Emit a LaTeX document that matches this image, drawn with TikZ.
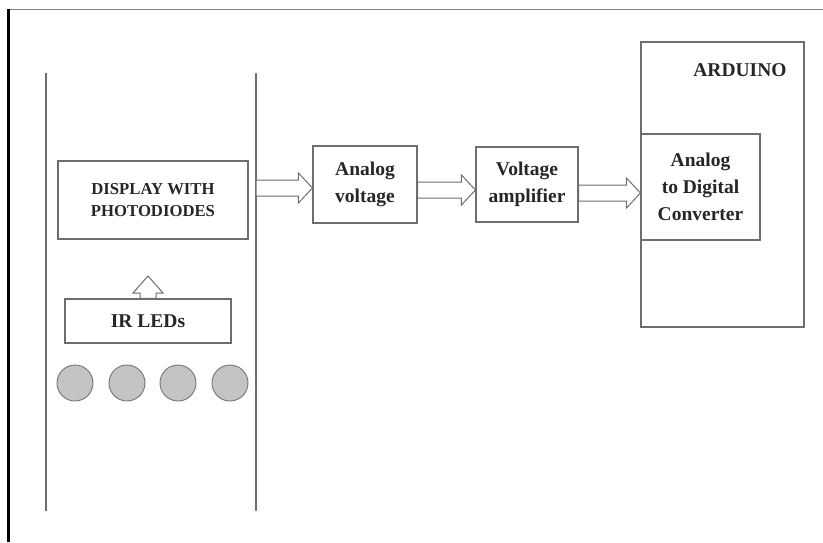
\documentclass[tikz,border=0pt]{standalone}
\usepackage{fontspec}
\setmainfont{Liberation Serif}
\usetikzlibrary{calc}
\definecolor{lineaGris}{HTML}{6E6E6E}
\definecolor{ledGris}{HTML}{C4C4C4}
\definecolor{textoGris}{HTML}{262626}

\tikzset{
  bloque/.style={draw=lineaGris,line width=1.1pt,inner sep=0pt,align=center,
    text=textoGris,font=\bfseries\fontsize{19.5}{27}\selectfont},
  flecha/.style={draw=lineaGris,line width=1pt,fill=white},
  led/.style={circle,draw=gray!90!black,fill=ledGris,line width=0.9pt,
    minimum size=36pt,inner sep=0pt},
}

% hollow block arrow to the right: start point, end point (y of start)
\newcommand{\flechaDer}[2]{%
  \draw[flecha] let \p1=#1, \p2=#2 in
    (\x1,\y1+8pt) -- (\x2-14pt,\y1+8pt) -- (\x2-14pt,\y1+15pt) -- (\x2,\y1)
    -- (\x2-14pt,\y1-15pt) -- (\x2-14pt,\y1-8pt) -- (\x1,\y1-8pt) -- cycle;}
% hollow block arrow upwards
\newcommand{\flechaArr}[2]{%
  \draw[flecha] let \p1=#1, \p2=#2 in
    (\x2-8pt,\y1) -- (\x2-8pt,\y2-17pt) -- (\x2-15pt,\y2-17pt) -- (\x2,\y2)
    -- (\x2+15pt,\y2-17pt) -- (\x2+8pt,\y2-17pt) -- (\x2+8pt,\y1) -- cycle;}

\begin{document}
\begin{tikzpicture}[x=1pt,y=-1pt]
  \useasboundingbox (0,0) rectangle (823,542);
  % frame
  \draw[gray,line width=1pt] (8,9) -- (823,9);
  \draw[black,line width=3pt] (8,9) -- (8,542);

  % sensor column
  \draw[lineaGris,line width=1.2pt] (46,73) -- (46,511);
  \draw[lineaGris,line width=1.2pt] (256,73) -- (256,511);
  \node[bloque,minimum width=190pt,minimum height=78pt,
    font=\bfseries\fontsize{16.7}{22}\selectfont] (disp) at (153,200)
    {DISPLAY WITH\\PHOTODIODES};
  \node[bloque,minimum width=166pt,minimum height=44pt] (ir) at (148,321) {IR LEDs};
  \foreach \x [count=\i] in {75,127,178,230}
    \node[led] (led\i) at (\x,383) {};

  % signal chain
  \node[bloque,minimum width=104pt,minimum height=77pt] (av) at (365,184.5)
    {Analog\\voltage};
  \node[bloque,minimum width=102pt,minimum height=75pt] (amp) at (527,184.5)
    {Voltage\\amplifier};
  \node[bloque,minimum width=163pt,minimum height=285pt] (ard) at (722.5,184.5) {};
  \node[text=textoGris,font=\bfseries\fontsize{19.5}{27}\selectfont] (ardlbl)
    at (740,70) {ARDUINO};
  \node[bloque,minimum width=119pt,minimum height=106pt] (adc) at (700.5,187)
    {Analog\\to Digital\\Converter};

  % arrows
  \coordinate (tipIR) at (148,276);
  \coordinate (a1) at (256,188);
  \coordinate (a2) at (av.east |- 0,190);
  \coordinate (a3) at (amp.east |- 0,193);
  \flechaArr{(ir.north)}{(tipIR)}
  \flechaDer{(a1)}{(av.west)}
  \flechaDer{(a2)}{(amp.west)}
  \flechaDer{(a3)}{(adc.west)}
\end{tikzpicture}
\end{document}
